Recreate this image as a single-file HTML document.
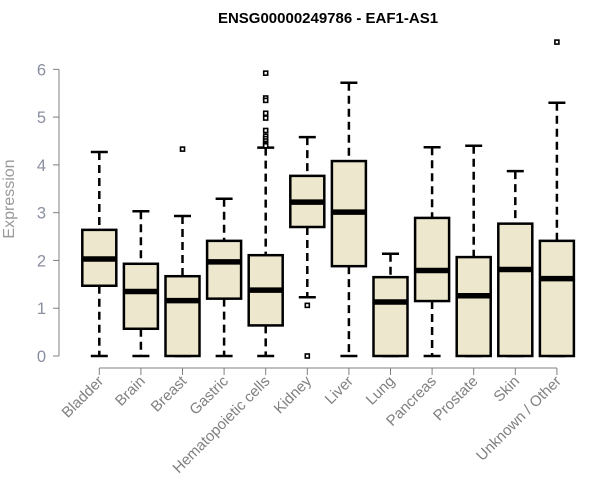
<!DOCTYPE html>
<html><head><meta charset="utf-8"><style>
body{margin:0;background:#fff}
svg{display:block;font-family:"Liberation Sans",Arial,sans-serif}
</style></head><body>
<svg id="chart" width="600" height="500" viewBox="0 0 600 500">
<text x="328" y="23" text-anchor="middle" font-size="15" font-weight="bold" fill="#000">ENSG00000249786 - EAF1-AS1</text>
<g id="yaxis"></g>
<g id="xaxis"></g>
<g id="boxes"></g>
<text transform="translate(14,199) rotate(-90)" text-anchor="middle" font-size="16" fill="#999">Expression</text>
</svg>
<script>
const categories=["Bladder","Brain","Breast","Gastric","Hematopoietic cells","Kidney","Liver","Lung","Pancreas","Prostate","Skin","Unknown / Other"];
const whiskerLow=[0,0,0,0,0,1.23,0,0,0,0,0,0];
const q1=[1.47,0.57,0,1.2,0.64,2.7,1.88,0,1.15,0,0,0];
const medians=[2.03,1.35,1.16,1.97,1.38,3.22,3.01,1.13,1.79,1.26,1.81,1.62];
const q3=[2.64,1.93,1.67,2.41,2.11,3.77,4.08,1.65,2.89,2.07,2.77,2.41];
const whiskerHigh=[4.27,3.03,2.93,3.29,4.36,4.58,5.72,2.14,4.37,4.4,3.87,5.3];
const outliers=[[],[],[4.33],[],[5.92,5.4,5.35,5.08,4.98,4.72,4.6,4.55,4.5,4.45,4.42,4.4],[1.06,0],[],[],[],[],[],[6.57]];
const yTicks=[0,1,2,3,4,5,6];

const NS="http://www.w3.org/2000/svg";
const y0=356, yPer=47.78, x0=99.3, dx=41.6, bw=34;
const yS=v=>y0-v*yPer;
const xS=i=>x0+i*dx;
function mk(tag,attrs,parent){const e=document.createElementNS(NS,tag);for(const k in attrs)e.setAttribute(k,attrs[k]);parent.appendChild(e);return e;}
const ya=document.getElementById('yaxis'), xa=document.getElementById('xaxis'), bx=document.getElementById('boxes');
const g="#808080";
let l=mk('line',{x1:59,x2:59,y1:yS(0),y2:yS(6),stroke:g},ya);

yTicks.forEach(t=>{
  let tk=mk('line',{x1:53,x2:59,y1:yS(t),y2:yS(t),stroke:g},ya);
  
  let tx=mk('text',{x:46,y:yS(t)+6,'text-anchor':'end','font-size':16.5,fill:'#8a8fa0'},ya);
  tx.textContent=t;
  
});
let xl=mk('line',{x1:xS(0),x2:xS(categories.length-1),y1:368,y2:368,stroke:g},xa);

categories.forEach((c,i)=>{
  const x=xS(i);
  let tk=mk('line',{x1:x,x2:x,y1:368,y2:375,stroke:g},xa);
  
  let tx=mk('text',{transform:`translate(${x+5},${382}) rotate(-45)`,'text-anchor':'end','font-size':15,fill:'#808080'},xa);
  tx.textContent=c;
  

  const grp=mk('g',{},bx);
  
  
  mk('line',{x1:x,x2:x,y1:yS(whiskerHigh[i]),y2:yS(q3[i]),stroke:'#000','stroke-width':2.5,'stroke-dasharray':'8,5'},grp);
  mk('line',{x1:x,x2:x,y1:yS(q1[i]),y2:yS(whiskerLow[i]),stroke:'#000','stroke-width':2.5,'stroke-dasharray':'8,5'},grp);
  mk('line',{x1:x-8.5,x2:x+8.5,y1:yS(whiskerHigh[i]),y2:yS(whiskerHigh[i]),stroke:'#000','stroke-width':2.5},grp);
  mk('line',{x1:x-8.5,x2:x+8.5,y1:yS(whiskerLow[i]),y2:yS(whiskerLow[i]),stroke:'#000','stroke-width':2.5},grp);
  mk('rect',{x:x-bw/2,y:yS(q3[i]),width:bw,height:yS(q1[i])-yS(q3[i]),fill:'#ede8cd',stroke:'#000','stroke-width':2.5},grp);
  mk('line',{x1:x-bw/2,x2:x+bw/2,y1:yS(medians[i]),y2:yS(medians[i]),stroke:'#000','stroke-width':5.5},grp);
  outliers[i].forEach(o=>{
    mk('rect',{x:x-2,y:yS(o)-2,width:4,height:4,fill:'#fff',stroke:'#000','stroke-width':1.6},grp);
  });
});
</script>
</body></html>
